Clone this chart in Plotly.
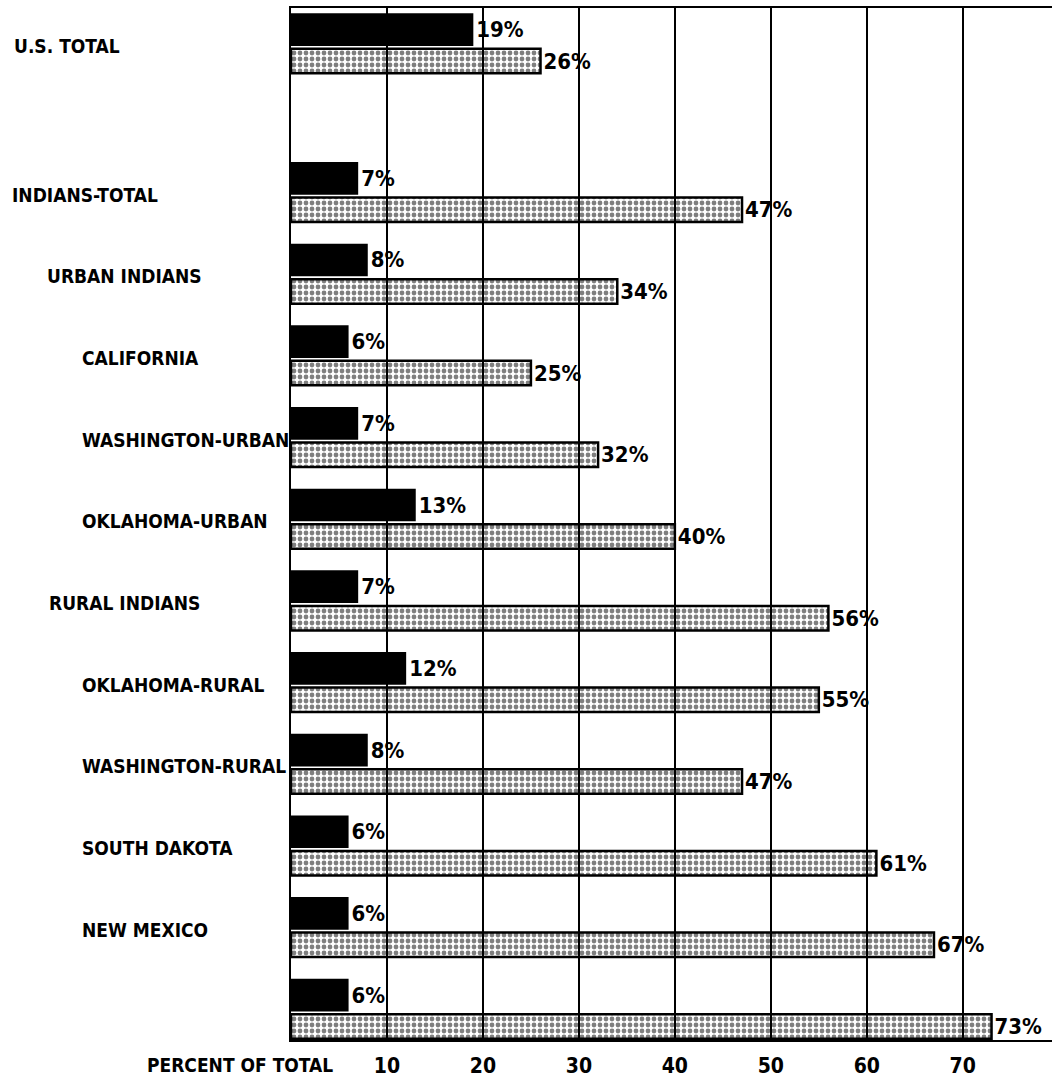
import plotly.graph_objects as go

# ---- data ----
categories = ["U.S. TOTAL", "INDIANS-TOTAL", "URBAN INDIANS", "CALIFORNIA",
              "WASHINGTON-URBAN", "OKLAHOMA-URBAN", "RURAL INDIANS",
              "OKLAHOMA-RURAL", "WASHINGTON-RURAL", "SOUTH DAKOTA",
              "NEW MEXICO", ""]
solid_values = [19, 7, 8, 6, 7, 13, 7, 12, 8, 6, 6, 6]
hatched_values = [26, 47, 34, 25, 32, 40, 56, 55, 47, 61, 67, 73]
x_ticks = [10, 20, 30, 40, 50, 60, 70]
x_tick_labels = ["10", "20", "30", "40", "50", "60", "70"]
axis_title = "PERCENT OF TOTAL"

# ---- layout helpers (style, not data) ----
indent_px = {"U.S. TOTAL": 12, "INDIANS-TOTAL": 10, "URBAN INDIANS": 45,
             "RURAL INDIANS": 47}
default_indent = 80
W, H = 1052, 1083
ML, MR, MT, MB = 291, 0, 8, 43
plot_w = W - ML - MR

# group positions: gap after the first group
pos = [0.0] + [1.82 + i for i in range(len(categories) - 1)]

FONT = "DejaVu Sans Condensed, Liberation Sans Narrow, sans-serif"

fig = go.Figure()

fig.add_trace(go.Bar(
    y=pos, x=solid_values, orientation="h",
    offset=-0.40, width=0.40,
    marker=dict(color="black", line=dict(color="black", width=0)),
    text=[f"<b>{v}%</b>" for v in solid_values],
    textposition="outside", constraintext="none", cliponaxis=False,
    textfont=dict(family=FONT, size=22, color="black"),
    showlegend=False,
))

fig.add_trace(go.Bar(
    y=pos, x=hatched_values, orientation="h",
    offset=0.035, width=0.30,
    marker=dict(color="rgba(255,255,255,0)",
                line=dict(color="black", width=2.5),
                pattern=dict(shape=".", fgcolor="black", bgcolor="rgba(255,255,255,0)",
                             size=6, solidity=0.5)),
    text=[f"<b>{v}%</b>" for v in hatched_values],
    textposition="outside", constraintext="none", cliponaxis=False,
    textfont=dict(family=FONT, size=22, color="black"),
    showlegend=False,
))

annotations = []
for c, p in zip(categories, pos):
    if not c:
        continue
    px = indent_px.get(c, default_indent)
    annotations.append(dict(
        text=f"<b>{c}</b>", xref="paper", x=(px - ML) / plot_w, xanchor="left",
        yref="y", y=p, yanchor="middle", showarrow=False,
        font=dict(family=FONT, size=19, color="black"),
    ))
annotations.append(dict(
    text=f"<b>{axis_title}</b>", xref="paper", x=(145 - ML) / plot_w, xanchor="left",
    yref="paper", y=-25 / (H - MT - MB), yanchor="middle", showarrow=False,
    font=dict(family=FONT, size=19, color="black"),
))

fig.update_layout(
    width=W, height=H, autosize=False,
    margin=dict(l=ML, r=MR, t=MT, b=MB, pad=0),
    plot_bgcolor="white", paper_bgcolor="white",
    barmode="overlay",
    annotations=annotations,
    xaxis=dict(range=[0, 79.3], tickvals=x_ticks,
               ticktext=[f"<b>{t}</b>" for t in x_tick_labels],
               tickfont=dict(family=FONT, size=21, color="black"),
               ticklabelstandoff=6,
               showgrid=True, gridcolor="black", gridwidth=2,
               showline=True, linecolor="black", linewidth=2, mirror=True,
               zeroline=False, ticks=""),
    yaxis=dict(range=[12.17, -0.465], showgrid=False, showticklabels=False,
               showline=True, linecolor="black", linewidth=2,
               zeroline=False, ticks=""),
)

fig.write_html("out.html", config={"displayModeBar": False},
               post_script="document.body.style.margin='0px';document.body.style.overflow='hidden';")
